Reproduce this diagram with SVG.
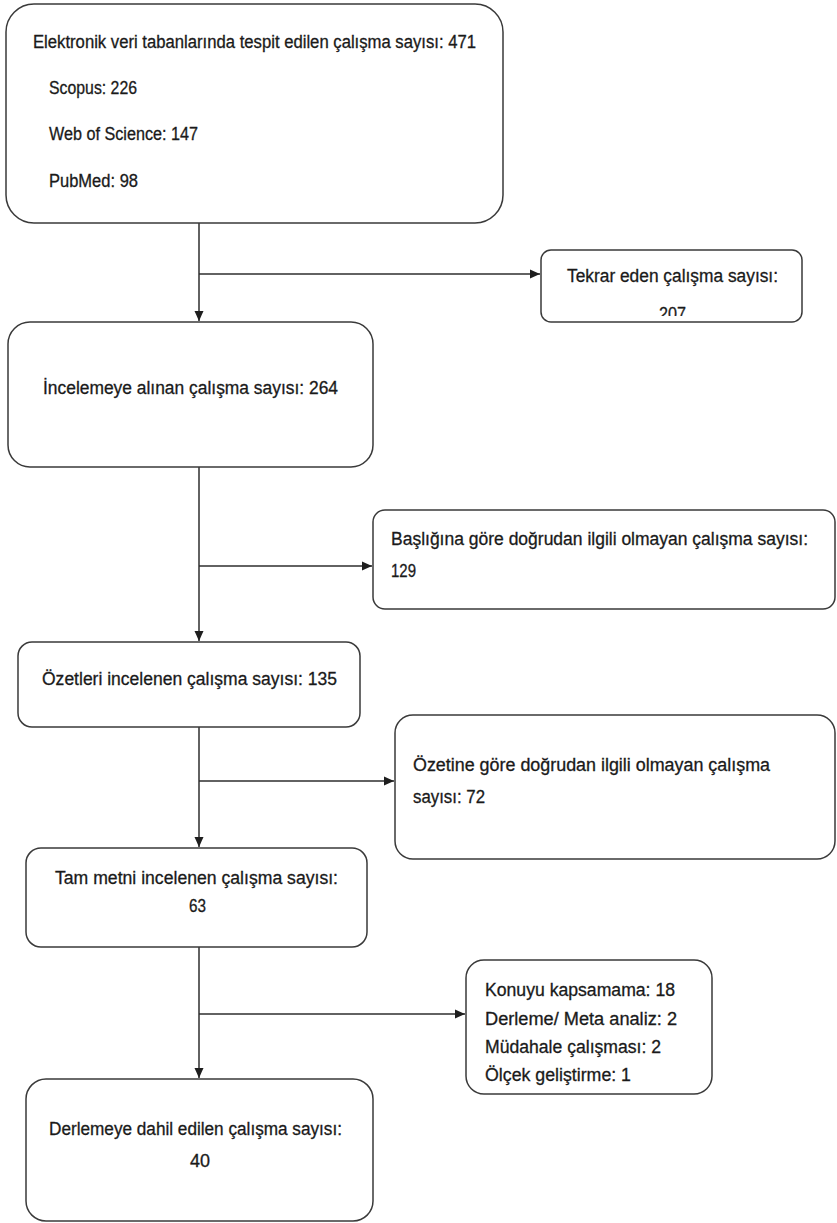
<svg xmlns="http://www.w3.org/2000/svg" width="837" height="1223" viewBox="0 0 837 1223">
<style>
.box{fill:#ffffff;stroke:#3a3a3a;stroke-width:1.5}
.t{font-family:"Liberation Sans",Arial,sans-serif;font-size:18px;fill:#1a1a1a;stroke:#1a1a1a;stroke-width:0.3}
.ln{fill:none;stroke:#2e2e2e;stroke-width:1.5}
</style>
<defs>
<marker id="ah" markerUnits="userSpaceOnUse" markerWidth="10" markerHeight="10" refX="10" refY="5" orient="auto">
<path d="M0,0.5 L10,5 L0,9.5 z" fill="#1e1e1e"/>
</marker>
<clipPath id="clipT"><rect x="541" y="250" width="261" height="66"/></clipPath>
</defs>
<rect width="837" height="1223" fill="#ffffff"/>

<g id="connectors">
<line class="ln" x1="199" y1="223" x2="199" y2="321" marker-end="url(#ah)"/>
<line class="ln" x1="199" y1="274" x2="540" y2="274" marker-end="url(#ah)"/>
<line class="ln" x1="199" y1="467" x2="199" y2="641" marker-end="url(#ah)"/>
<line class="ln" x1="199" y1="566" x2="372" y2="566" marker-end="url(#ah)"/>
<line class="ln" x1="199" y1="727" x2="199" y2="847" marker-end="url(#ah)"/>
<line class="ln" x1="199" y1="781" x2="394" y2="781" marker-end="url(#ah)"/>
<line class="ln" x1="199" y1="947" x2="199" y2="1078" marker-end="url(#ah)"/>
<line class="ln" x1="199" y1="1014" x2="465" y2="1014" marker-end="url(#ah)"/>
</g>

<g id="n1">
<rect class="box" x="6" y="4" width="497" height="219" rx="28"/>
<text class="t" x="33" y="48" textLength="443" lengthAdjust="spacingAndGlyphs">Elektronik veri tabanlarında tespit edilen çalışma sayısı: 471</text>
<text class="t" x="49" y="94" textLength="88" lengthAdjust="spacingAndGlyphs">Scopus: 226</text>
<text class="t" x="49" y="140" textLength="149" lengthAdjust="spacingAndGlyphs">Web of Science: 147</text>
<text class="t" x="49" y="187" textLength="89" lengthAdjust="spacingAndGlyphs">PubMed: 98</text>
</g>

<g id="n2">
<rect class="box" x="541" y="250" width="261" height="72" rx="10"/>
<text class="t" x="567" y="282" textLength="211" lengthAdjust="spacingAndGlyphs">Tekrar eden çalışma sayısı:</text>
<text class="t" x="659" y="320" textLength="27" lengthAdjust="spacingAndGlyphs" clip-path="url(#clipT)">207</text>
</g>

<g id="n3">
<rect class="box" x="8" y="322" width="365" height="145" rx="22"/>
<text class="t" x="43" y="394" textLength="295" lengthAdjust="spacingAndGlyphs">İncelemeye alınan çalışma sayısı: 264</text>
</g>

<g id="n4">
<rect class="box" x="373" y="510" width="462" height="99" rx="12"/>
<text class="t" x="391" y="545" textLength="417" lengthAdjust="spacingAndGlyphs">Başlığına göre doğrudan ilgili olmayan çalışma sayısı:</text>
<text class="t" x="391" y="577" textLength="25" lengthAdjust="spacingAndGlyphs">129</text>
</g>

<g id="n5">
<rect class="box" x="18" y="642" width="342" height="85" rx="14"/>
<text class="t" x="42" y="685" textLength="295" lengthAdjust="spacingAndGlyphs">Özetleri incelenen çalışma sayısı: 135</text>
</g>

<g id="n6">
<rect class="box" x="395" y="715" width="440" height="144" rx="18"/>
<text class="t" x="413" y="771" textLength="357" lengthAdjust="spacingAndGlyphs">Özetine göre doğrudan ilgili olmayan çalışma</text>
<text class="t" x="413" y="803" textLength="72" lengthAdjust="spacingAndGlyphs">sayısı: 72</text>
</g>

<g id="n7">
<rect class="box" x="26" y="848" width="341" height="99" rx="15"/>
<text class="t" x="55" y="884" textLength="283" lengthAdjust="spacingAndGlyphs">Tam metni incelenen çalışma sayısı:</text>
<text class="t" x="189" y="912" textLength="17" lengthAdjust="spacingAndGlyphs">63</text>
</g>

<g id="n8">
<rect class="box" x="466" y="960" width="246" height="134" rx="18"/>
<text class="t" x="485" y="996" textLength="190" lengthAdjust="spacingAndGlyphs">Konuyu kapsamama: 18</text>
<text class="t" x="485" y="1025" textLength="192" lengthAdjust="spacingAndGlyphs">Derleme/ Meta analiz: 2</text>
<text class="t" x="485" y="1053" textLength="176" lengthAdjust="spacingAndGlyphs">Müdahale çalışması: 2</text>
<text class="t" x="485" y="1081" textLength="146" lengthAdjust="spacingAndGlyphs">Ölçek geliştirme: 1</text>
</g>

<g id="n9">
<rect class="box" x="26" y="1079" width="347" height="142" rx="20"/>
<text class="t" x="49" y="1135" textLength="293" lengthAdjust="spacingAndGlyphs">Derlemeye dahil edilen çalışma sayısı:</text>
<text class="t" x="190" y="1167" textLength="20" lengthAdjust="spacingAndGlyphs">40</text>
</g>
</svg>
